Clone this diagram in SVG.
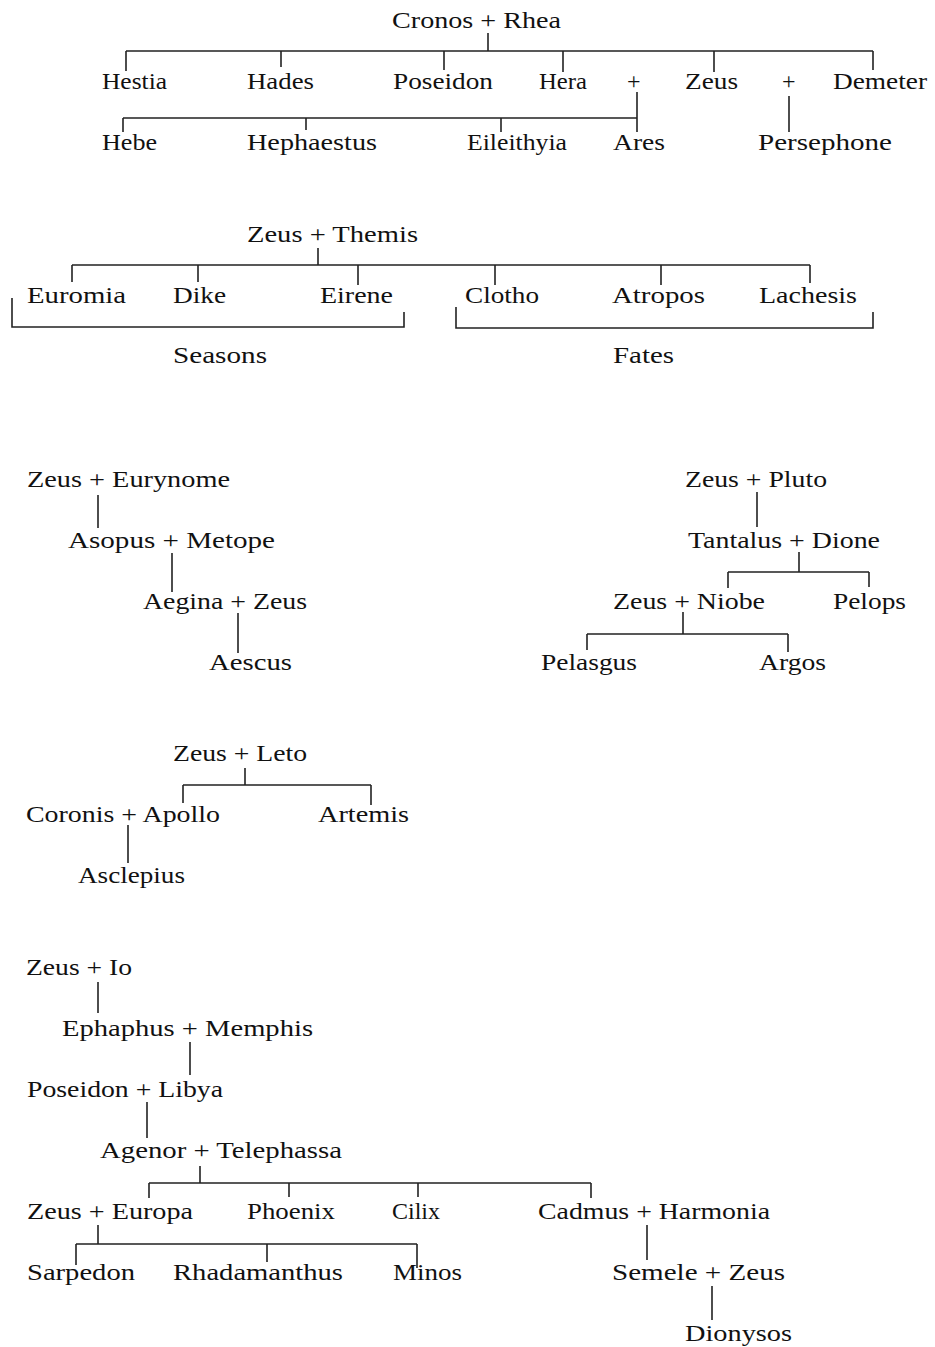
<svg xmlns="http://www.w3.org/2000/svg" width="935" height="1347" viewBox="0 0 935 1347">
<style>
text{font-family:"Liberation Serif","DejaVu Serif",serif;font-size:24px;fill:#111}
.c path{fill:none;stroke:#222;stroke-width:1.6}
</style>
<rect width="935" height="1347" fill="#fff"/>
<g class="c" id="connectors">
<path d="M488 33V51M126 51H873M126 51V71M281 51V67M444 51V70M563 51V72M714 51V72M873 51V70"/>
<path d="M637 92V132M123 118H637M123 118V132M306 118V130M501 118V132M789 96V132"/>
<path d="M318 248V265M72 265H810M72 265V282M198 265V282M358 265V285M495 265V285M661 265V285M810 265V283"/>
<path d="M12 298V327H404V312M456 307V328H873V312"/>
<path d="M98 495V528M172 553V592M238 613V653"/>
<path d="M757 492V527M799 552V572M728 572H869M728 572V588M869 572V587M683 612V634M587 634H788M587 634V650M788 634V652"/>
<path d="M245 768V785M183 785H371M183 785V803M371 785V805M128 825V863"/>
<path d="M98 982V1013M190 1042V1075M147 1102V1138M200 1166V1183M149 1183H591M149 1183V1198M289 1183V1197M418 1183V1197M591 1183V1198"/>
<path d="M98 1225V1244M76 1244H417M76 1244V1265M267 1244V1262M417 1244V1268M647 1225V1260M712 1286V1320"/>
</g>
<g id="cronos-rhea"><text x="392" y="28" textLength="169" lengthAdjust="spacingAndGlyphs">Cronos + Rhea</text></g>
<g id="hestia"><text x="102" y="89" textLength="65" lengthAdjust="spacingAndGlyphs">Hestia</text></g>
<g id="hades"><text x="247" y="89" textLength="67" lengthAdjust="spacingAndGlyphs">Hades</text></g>
<g id="poseidon"><text x="393" y="89" textLength="100" lengthAdjust="spacingAndGlyphs">Poseidon</text></g>
<g id="hera"><text x="539" y="89" textLength="48" lengthAdjust="spacingAndGlyphs">Hera</text></g>
<g id="plus-hera-zeus"><text x="627" y="89">+</text></g>
<g id="zeus"><text x="685" y="89" textLength="53" lengthAdjust="spacingAndGlyphs">Zeus</text></g>
<g id="plus-zeus-demeter"><text x="782" y="89">+</text></g>
<g id="demeter"><text x="833" y="89" textLength="94" lengthAdjust="spacingAndGlyphs">Demeter</text></g>
<g id="hebe"><text x="102" y="150" textLength="55" lengthAdjust="spacingAndGlyphs">Hebe</text></g>
<g id="hephaestus"><text x="247" y="150" textLength="130" lengthAdjust="spacingAndGlyphs">Hephaestus</text></g>
<g id="eileithyia"><text x="467" y="150" textLength="100" lengthAdjust="spacingAndGlyphs">Eileithyia</text></g>
<g id="ares"><text x="613" y="150" textLength="52" lengthAdjust="spacingAndGlyphs">Ares</text></g>
<g id="persephone"><text x="758" y="150" textLength="134" lengthAdjust="spacingAndGlyphs">Persephone</text></g>
<g id="zeus-themis"><text x="247" y="242" textLength="171" lengthAdjust="spacingAndGlyphs">Zeus + Themis</text></g>
<g id="euromia"><text x="27" y="303" textLength="99" lengthAdjust="spacingAndGlyphs">Euromia</text></g>
<g id="dike"><text x="173" y="303" textLength="53" lengthAdjust="spacingAndGlyphs">Dike</text></g>
<g id="eirene"><text x="320" y="303" textLength="73" lengthAdjust="spacingAndGlyphs">Eirene</text></g>
<g id="clotho"><text x="465" y="303" textLength="74" lengthAdjust="spacingAndGlyphs">Clotho</text></g>
<g id="atropos"><text x="612" y="303" textLength="93" lengthAdjust="spacingAndGlyphs">Atropos</text></g>
<g id="lachesis"><text x="759" y="303" textLength="98" lengthAdjust="spacingAndGlyphs">Lachesis</text></g>
<g id="seasons"><text x="173" y="363" textLength="94" lengthAdjust="spacingAndGlyphs">Seasons</text></g>
<g id="fates"><text x="613" y="363" textLength="61" lengthAdjust="spacingAndGlyphs">Fates</text></g>
<g id="zeus-eurynome"><text x="27" y="487" textLength="203" lengthAdjust="spacingAndGlyphs">Zeus + Eurynome</text></g>
<g id="asopus-metope"><text x="68" y="548" textLength="207" lengthAdjust="spacingAndGlyphs">Asopus + Metope</text></g>
<g id="aegina-zeus"><text x="143" y="609" textLength="164" lengthAdjust="spacingAndGlyphs">Aegina + Zeus</text></g>
<g id="aescus"><text x="209" y="670" textLength="83" lengthAdjust="spacingAndGlyphs">Aescus</text></g>
<g id="zeus-pluto"><text x="685" y="487" textLength="142" lengthAdjust="spacingAndGlyphs">Zeus + Pluto</text></g>
<g id="tantalus-dione"><text x="688" y="548" textLength="192" lengthAdjust="spacingAndGlyphs">Tantalus + Dione</text></g>
<g id="zeus-niobe"><text x="613" y="609" textLength="152" lengthAdjust="spacingAndGlyphs">Zeus + Niobe</text></g>
<g id="pelops"><text x="833" y="609" textLength="73" lengthAdjust="spacingAndGlyphs">Pelops</text></g>
<g id="pelasgus"><text x="541" y="670" textLength="96" lengthAdjust="spacingAndGlyphs">Pelasgus</text></g>
<g id="argos"><text x="759" y="670" textLength="67" lengthAdjust="spacingAndGlyphs">Argos</text></g>
<g id="zeus-leto"><text x="173" y="761" textLength="134" lengthAdjust="spacingAndGlyphs">Zeus + Leto</text></g>
<g id="coronis-apollo"><text x="26" y="822" textLength="194" lengthAdjust="spacingAndGlyphs">Coronis + Apollo</text></g>
<g id="artemis"><text x="318" y="822" textLength="91" lengthAdjust="spacingAndGlyphs">Artemis</text></g>
<g id="asclepius"><text x="78" y="883" textLength="107" lengthAdjust="spacingAndGlyphs">Asclepius</text></g>
<g id="zeus-io"><text x="26" y="975" textLength="106" lengthAdjust="spacingAndGlyphs">Zeus + Io</text></g>
<g id="ephaphus-memphis"><text x="62" y="1036" textLength="251" lengthAdjust="spacingAndGlyphs">Ephaphus + Memphis</text></g>
<g id="poseidon-libya"><text x="27" y="1097" textLength="196" lengthAdjust="spacingAndGlyphs">Poseidon + Libya</text></g>
<g id="agenor-telephassa"><text x="100" y="1158" textLength="242" lengthAdjust="spacingAndGlyphs">Agenor + Telephassa</text></g>
<g id="zeus-europa"><text x="27" y="1219" textLength="166" lengthAdjust="spacingAndGlyphs">Zeus + Europa</text></g>
<g id="phoenix"><text x="247" y="1219" textLength="88" lengthAdjust="spacingAndGlyphs">Phoenix</text></g>
<g id="cilix"><text x="392" y="1219" textLength="48" lengthAdjust="spacingAndGlyphs">Cilix</text></g>
<g id="cadmus-harmonia"><text x="538" y="1219" textLength="232" lengthAdjust="spacingAndGlyphs">Cadmus + Harmonia</text></g>
<g id="sarpedon"><text x="27" y="1280" textLength="108" lengthAdjust="spacingAndGlyphs">Sarpedon</text></g>
<g id="rhadamanthus"><text x="173" y="1280" textLength="170" lengthAdjust="spacingAndGlyphs">Rhadamanthus</text></g>
<g id="minos"><text x="393" y="1280" textLength="69" lengthAdjust="spacingAndGlyphs">Minos</text></g>
<g id="semele-zeus"><text x="612" y="1280" textLength="173" lengthAdjust="spacingAndGlyphs">Semele + Zeus</text></g>
<g id="dionysos"><text x="685" y="1341" textLength="107" lengthAdjust="spacingAndGlyphs">Dionysos</text></g>
</svg>
